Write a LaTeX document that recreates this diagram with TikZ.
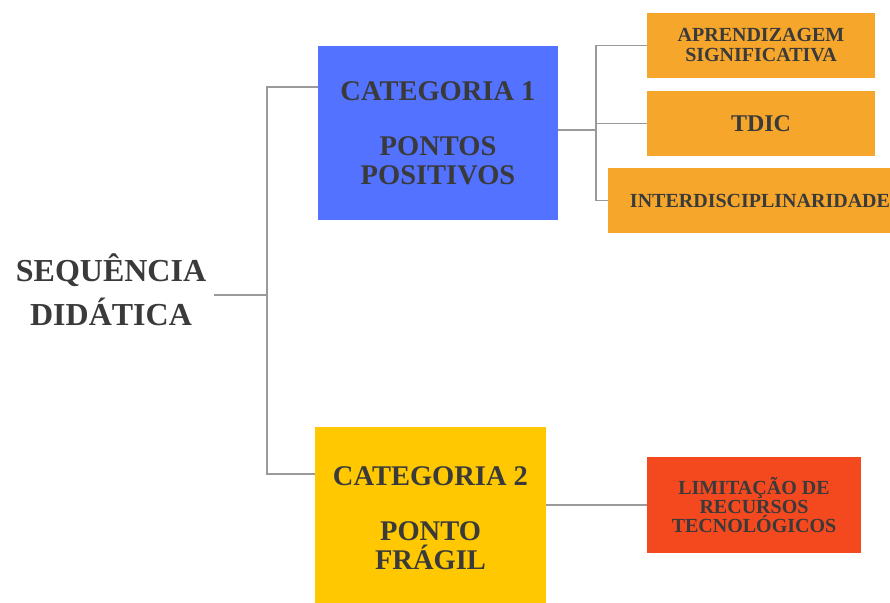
\documentclass[tikz,border=0pt]{standalone}
\usepackage{fontspec}
\setmainfont{Liberation Serif}[BoldFont={Liberation Serif Bold}]
\definecolor{cblue}{HTML}{5272FF}
\definecolor{corange}{HTML}{F5A62B}
\definecolor{cyellow}{HTML}{FFC800}
\definecolor{cred}{HTML}{F4491F}
\definecolor{ctxt}{HTML}{3A3A3A}
\definecolor{cline}{HTML}{9A9A9A}
\begin{document}
\begin{tikzpicture}[x=1pt,y=-1pt,
  box/.style={inner sep=0pt, font=\bfseries, text=ctxt, align=center},
  conn/.style={draw=cline, line width=1.2pt}]
\useasboundingbox (0,0) rectangle (890,602);
\clip (0,0) rectangle (890,602);
\fill[white] (0,0) rectangle (890,602);

\node[box, inner xsep=8pt, font=\bfseries\fontsize{32}{44}\selectfont] (seq) at (111,290) {SEQUÊNCIA\\DIDÁTICA};

\node[box, fill=cblue, minimum width=240pt, minimum height=174pt, font=\bfseries\fontsize{28.5}{29}\selectfont] (c1) at (438,133) {CATEGORIA 1\\[26pt]PONTOS\\POSITIVOS};
\node[box, fill=cyellow, minimum width=231pt, minimum height=182pt, font=\bfseries\fontsize{28.5}{29}\selectfont] (c2) at (430.5,518) {CATEGORIA 2\\[26pt]PONTO\\FRÁGIL};

\node[box, fill=corange, minimum width=228pt, minimum height=65pt, font=\bfseries\fontsize{20}{20}\selectfont] (ap) at (761,45.5) {APRENDIZAGEM\\SIGNIFICATIVA};
\node[box, fill=corange, minimum width=228pt, minimum height=65pt, font=\bfseries\fontsize{24}{24}\selectfont] (td) at (761,123.5) {TDIC};
\node[box, fill=corange, minimum width=304pt, minimum height=65pt, font=\bfseries\fontsize{20}{20}\selectfont] (in) at (760,200.5) {INTERDISCIPLINARIDADE};
\node[box, fill=cred, minimum width=214pt, minimum height=96pt, font=\bfseries\fontsize{20}{19}\selectfont] (li) at (754,505) {LIMITAÇÃO DE\\RECURSOS\\TECNOLÓGICOS};

\coordinate (j1) at (267,295);
\coordinate (k1) at (267,87);
\coordinate (k2) at (267,474);
\coordinate (j2) at (596,130);

\draw[conn] (seq.east |- j1) -- (j1);
\draw[conn] (c1.west |- k1) -- (k1) -- (k2) -- (c2.west |- k2);
\draw[conn] (c1.east |- j2) -- (j2);
\draw[conn] (ap.west) -- (ap.west -| j2) -- (in.west -| j2) -- (in.west);
\draw[conn] (td.west -| j2) -- (td.west);
\draw[conn] (c2.east |- li.west) -- (li.west);
\end{tikzpicture}
\end{document}
